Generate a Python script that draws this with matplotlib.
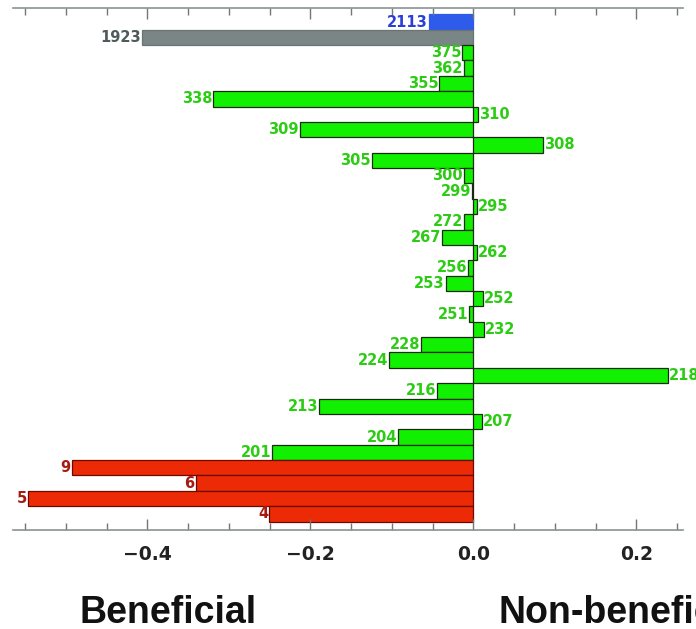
"""
plot.py
Horizontal bar chart of effect values, beneficial (left) vs non-beneficial (right).
"""

import matplotlib
matplotlib.use("Agg")
import matplotlib.pyplot as plt
from matplotlib.ticker import MultipleLocator

# rows from top to bottom
labels = ["2113", "1923", "375", "362", "355", "338", "310", "309", "308",
          "305", "300", "299", "295", "272", "267", "262", "256", "253",
          "252", "251", "232", "228", "224", "218", "216", "213", "207",
          "204", "201", "9", "6", "5", "4"]
values = [-0.055, -0.407, -0.014, -0.012, -0.042, -0.319, 0.006, -0.213, 0.086,
          -0.125, -0.012, -0.002, 0.004, -0.011, -0.038, 0.004, -0.006, -0.034,
          0.012, -0.005, 0.0135, -0.064, -0.103, 0.239, -0.045, -0.189, 0.011,
          -0.092, -0.247, -0.493, -0.341, -0.547, -0.251]
groups = ["blue", "grey"] + ["green"] * 27 + ["red"] * 4

face = {"blue": "#2f5bea", "grey": "#7a8585", "green": "#11f000", "red": "#ec2a06"}
edge = {"blue": "#2f5bea", "grey": "#6a7474", "green": "#1a2a10", "red": "#6a0a00"}
text_col = {"blue": "#2a3fd8", "grey": "#4f5a5a", "green": "#2ccc14", "red": "#a81a10"}

fig = plt.figure(figsize=(6.96, 6.29), dpi=100)
ax = fig.add_axes([0.0187, 0.1574, 0.9623, 0.8296])

n = len(values)
ypos = [n - 1 - i for i in range(n)]

for y, v, g, lab in zip(ypos, values, groups, labels):
    ax.barh(y, v, height=1.0, color=face[g], edgecolor=edge[g], linewidth=0.9)
    off = 0.001 if v >= 0 else -0.001
    ax.text(v + off, y, lab, color=text_col[g], fontsize=10.5, fontweight="bold",
            ha="left" if v >= 0 else "right", va="center",
            family="DejaVu Sans", fontstretch="expanded")

ax.set_xlim(-0.565, 0.257)
ax.set_ylim(-1.05, n - 0.1)
ax.set_yticks([])

ax.xaxis.set_minor_locator(MultipleLocator(0.05))
ax.set_xticks([-0.4, -0.2, 0.0, 0.2])
ax.set_xticklabels(["\u22120.4", "\u22120.2", "0.0", "0.2"],
                   fontsize=13.5, family="DejaVu Sans", fontweight="bold")
ax.tick_params(axis="x", which="major", direction="in", length=8, width=1,
               color="#707878", top=True, pad=11, labelcolor="#222222")
ax.tick_params(axis="x", which="minor", direction="in", length=5, width=1,
               color="#707878", top=True)

for side in ["left", "right"]:
    ax.spines[side].set_visible(False)
for side in ["top", "bottom"]:
    ax.spines[side].set_color("#8a9292")
    ax.spines[side].set_linewidth(1.2)

fig.text(168 / 696, 1 - 613 / 629, "Beneficial", fontsize=27, fontweight="bold",
         family="Liberation Sans", ha="center", va="center", color="#111111")
fig.text(498 / 696, 1 - 613 / 629, "Non-beneficial", fontsize=27, fontweight="bold",
         family="Liberation Sans", ha="left", va="center", color="#111111")

fig.savefig("out.png", dpi=100)
